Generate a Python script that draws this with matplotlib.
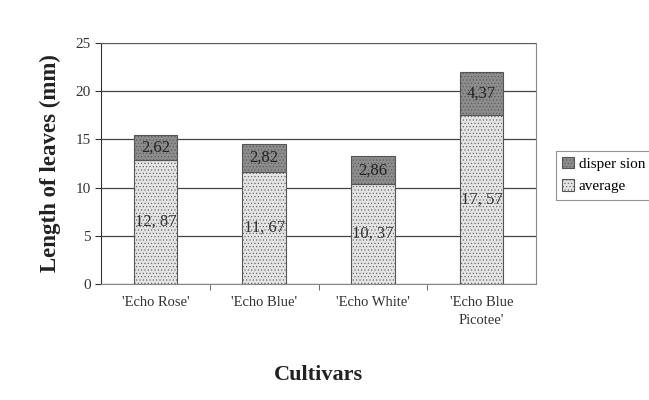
import matplotlib.pyplot as plt

plt.rcParams['font.family'] = ['Liberation Serif', 'DejaVu Serif']
plt.rcParams['hatch.color'] = '#9a9a9a'
plt.rcParams['hatch.linewidth'] = 0.4

cultivars = ["'Echo Rose'", "'Echo Blue'", "'Echo White'", "'Echo Blue\nPicotee'"]
average = [12.87, 11.67, 10.37, 17.57]
dispersion = [2.62, 2.82, 2.86, 4.37]
avg_labels = ["12, 87", "11, 67", "10, 37", "17, 57"]
disp_labels = ["2,62", "2,82", "2,86", "4,37"]

fig = plt.figure(figsize=(6.49, 4.0), dpi=100)
ax = fig.add_axes([101 / 649, 1 - 284 / 400, 435 / 649, 241 / 400])

x = list(range(len(cultivars)))
b1 = ax.bar(x, average, width=0.4, color='#e4e4e4', edgecolor='#555555',
            linewidth=0.8, hatch='.....', label='average', zorder=3)
b2 = ax.bar(x, dispersion, width=0.4, bottom=average, color='#8c8c8c',
            edgecolor='#555555', linewidth=0.8, hatch='.....',
            label='disper sion', zorder=3)

for i in x:
    ax.text(i, average[i] / 2, avg_labels[i], ha='center', va='center',
            fontsize=12, color='#333333', zorder=4)
    ax.text(i, average[i] + dispersion[i] / 2, disp_labels[i], ha='center',
            va='center', fontsize=12, color='#222222', zorder=4)

ax.set_xlim(-0.5, 3.5)
ax.set_ylim(0, 25)
ax.set_yticks([0, 5, 10, 15, 20, 25])
ax.set_xticks(x)
ax.set_xticklabels(cultivars, fontsize=10.5, color='#333333', linespacing=1.4)
ax.set_xticks([0.5, 1.5, 2.5], minor=True)
ax.tick_params(axis='y', labelsize=11, colors='#333333', length=4)
ax.tick_params(axis='x', which='major', length=0, pad=9)
ax.tick_params(axis='x', which='minor', length=4, color='#555555')
ax.grid(axis='y', color='#444444', linewidth=0.9, zorder=0)

ax.spines['top'].set_linestyle(':')
ax.spines['top'].set_color('#666666')
ax.spines['right'].set_color('#888888')
ax.spines['left'].set_color('#333333')
ax.spines['bottom'].set_color('#888888')

ax.set_ylabel('Length of leaves (mm)', fontsize=16.5, fontweight='bold',
              color='#222222', labelpad=10)
ax.set_xlabel('Cultivars', fontsize=16, fontweight='bold', color='#222222',
              labelpad=28)

leg = fig.legend(handles=[b2, b1], loc='upper left',
                 bbox_to_anchor=(548 / 649, 1 - 143 / 400), fontsize=11,
                 frameon=True, fancybox=False, edgecolor='#777777',
                 handlelength=0.8, handleheight=0.8, handletextpad=0.3,
                 borderpad=0.4, labelspacing=0.55)
leg.get_frame().set_linewidth(0.8)

fig.savefig('out.png', dpi=100)
